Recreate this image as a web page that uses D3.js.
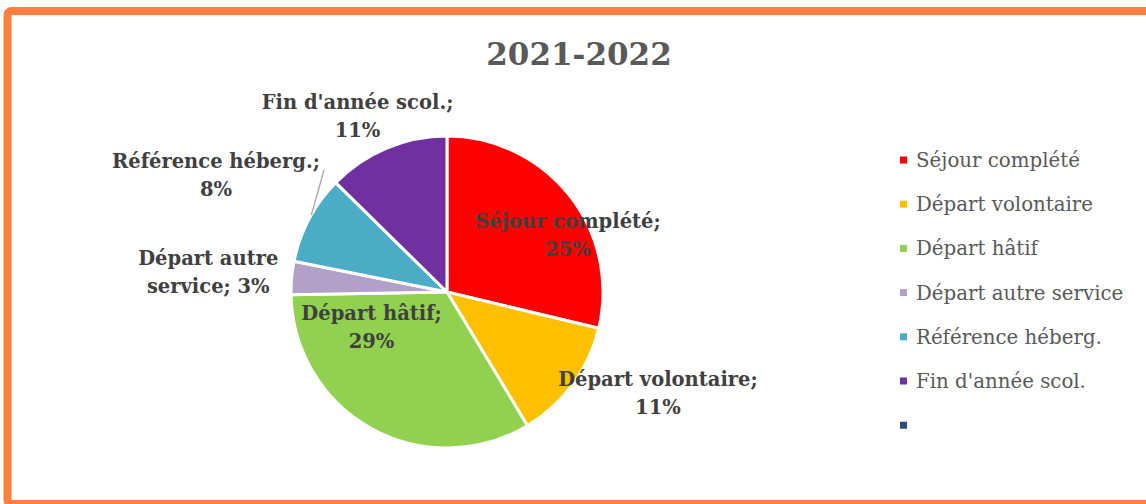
<!DOCTYPE html>
<html lang="fr">
<head>
  <meta charset="UTF-8" />
  <title>2021-2022</title>
  <style>
    html, body {
      margin: 0;
      background: #fff;
    }
    svg { display: block; }
    .title { font-family: "DejaVu Serif", serif; font-weight: bold; font-size: 31px; fill: #595959; }
    .lbl { font-family: "DejaVu Serif", serif; font-weight: bold; font-size: 19.5px; fill: #404040; }
    .legend text { font-family: "DejaVu Serif", serif; font-size: 19.8px; fill: #595959; }
  </style>
</head>
<body>
  <svg id="chart" width="1146" height="504"></svg>

  <script src="https://cdn.jsdelivr.net/npm/d3@7/dist/d3.min.js"></script>
  <script>
    // data
    const categories = ["Séjour complété", "Départ volontaire", "Départ hâtif",
                        "Départ autre service", "Référence héberg.", "Fin d'année scol.", ""];
    const values = [25, 11, 29, 3, 8, 11, 0];
    const colors = ["#ff0000", "#ffc000", "#92d050", "#b1a0c7", "#4bacc6", "#7030a0", "#2e4d7b"];
    // how each data label is split over two lines
    const labelLines = [
      ["Séjour complété;", "25%"],
      ["Départ volontaire;", "11%"],
      ["Départ hâtif;", "29%"],
      ["Départ autre", "service; 3%"],
      ["Référence héberg.;", "8%"],
      ["Fin d'année scol.;", "11%"]
    ];

    // label placement: radius factor + nudge (px) from that point
    const labelPlace = [
      {f: 0.8, dx: 23, dy: 20},
      {f: 1.35, dx: 41, dy: -23},
      {f: 0.8, dx: -15, dy: -74},
      {f: 1.35, dx: -29, dy: -1},
      {f: 1.35, dx: -45, dy: -18},
      {f: 1.35, dx: -8, dy: 18}
    ];

    const svg = d3.select("#chart");
    const W = +svg.attr("width"), H = +svg.attr("height");

    // orange frame
    svg.append("rect")
      .attr("x", 7.5).attr("y", 11)
      .attr("width", W + 20).attr("height", H - 11)
      .attr("rx", 4)
      .attr("fill", "#fff")
      .attr("stroke", "#fe7f3e")
      .attr("stroke-width", 8);

    svg.append("text")
      .attr("class", "title")
      .attr("x", 579).attr("y", 65)
      .attr("text-anchor", "middle")
      .text("2021-2022");

    const cx = 447, cy = 292, R = 156;
    const g = svg.append("g").attr("transform", `translate(${cx},${cy})`);

    const pie = d3.pie().sort(null).value(d => d.v);
    const arcs = pie(categories.map((c, i) => ({c, v: values[i], i})));
    const arc = d3.arc().innerRadius(0).outerRadius(R);

    g.selectAll("path.slice")
      .data(arcs.filter(d => d.data.v > 0))
      .enter().append("path")
        .attr("class", "slice")
        .attr("d", arc)
        .attr("fill", d => colors[d.data.i])
        .attr("stroke", "#fff")
        .attr("stroke-width", 3)
        .attr("stroke-linejoin", "round");

    // data labels
    const lineH = 28;
    arcs.filter(d => d.data.v > 0).forEach(d => {
      const p = labelPlace[d.data.i];
      const la = d3.arc().innerRadius(R * p.f).outerRadius(R * p.f);
      const [x0, y0] = la.centroid(d);
      const x = x0 + p.dx, y = y0 + p.dy;
      const t = g.append("text")
        .attr("class", "lbl")
        .attr("text-anchor", "middle");
      labelLines[d.data.i].forEach((s, k) => {
        t.append("tspan")
          .attr("x", x)
          .attr("y", y + (k - 0.5) * lineH + 7)
          .text(s);
      });
    });

    // leader line for Référence héberg.
    const ref = arcs[4];
    const ang = ref.startAngle + (ref.endAngle - ref.startAngle) * 0.55;
    g.append("line")
      .attr("x1", Math.sin(ang) * R).attr("y1", -Math.cos(ang) * R)
      .attr("x2", 324 - cx).attr("y2", 170 - cy)
      .attr("stroke", "#a6a6a6")
      .attr("stroke-width", 1.3);

    // legend
    const legend = svg.append("g").attr("class", "legend")
      .attr("transform", "translate(900,160)");
    categories.forEach((c, i) => {
      const row = legend.append("g").attr("transform", `translate(0,${i * 44.2})`);
      row.append("rect")
        .attr("x", 0).attr("y", -3.5)
        .attr("width", 7).attr("height", 7)
        .attr("fill", colors[i]);
      row.append("text")
        .attr("x", 16).attr("y", 7)
        .text(c);
    });
  </script>
</body>
</html>
